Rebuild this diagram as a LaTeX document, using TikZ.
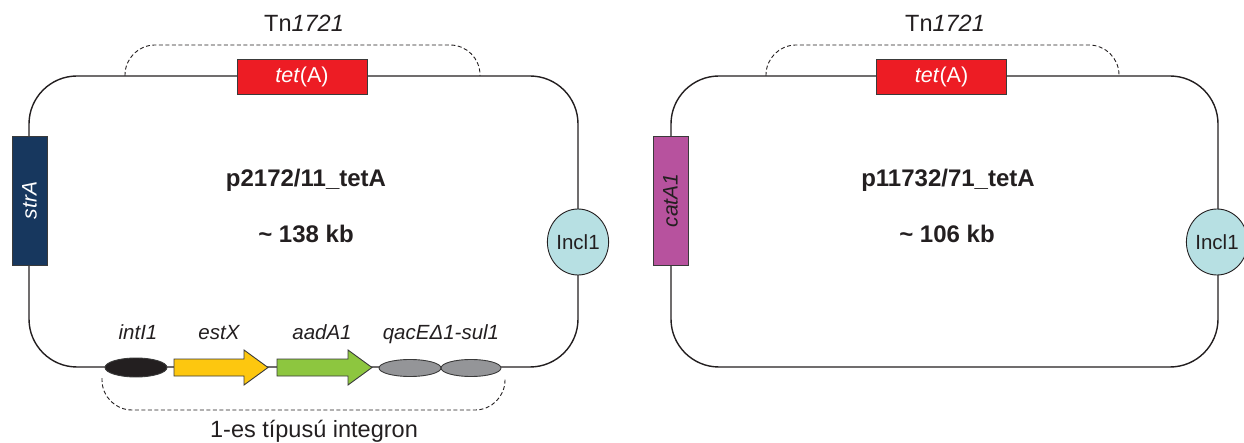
\documentclass[tikz,border=0pt]{standalone}
\usepackage{fontspec}
\setmainfont{Liberation Sans}
\usetikzlibrary{shapes.geometric}
\definecolor{ink}{HTML}{231F20}
\definecolor{tetred}{HTML}{ED1C24}
\definecolor{strnavy}{HTML}{17375E}
\definecolor{catmag}{HTML}{B7529E}
\definecolor{inclcyan}{HTML}{B7E0E3}
\definecolor{estyel}{HTML}{FDC70F}
\definecolor{aadgrn}{HTML}{8DC63F}
\definecolor{qacgrey}{HTML}{949598}
\definecolor{boxline}{HTML}{3A3A3A}
\tikzset{
  plasmid/.style={draw=ink, line width=1.4pt, rounded corners=48pt},
  genebox/.style={draw=boxline, line width=0.9pt, inner sep=0pt},
  incl/.style={ellipse, draw=ink, line width=0.9pt, fill=inclcyan, inner sep=0pt,
    minimum width=54pt, minimum height=66pt, text=ink, font=\fontsize{20.5}{24}\selectfont},
  oval/.style={ellipse, draw=boxline, line width=0.9pt, inner sep=0pt},
  arrowgene/.style={draw=boxline, line width=0.9pt},
  tnspan/.style={draw=ink, line width=0.9pt, dash pattern=on 4pt off 2.5pt, rounded corners=30pt},
  genelabel/.style={anchor=base, text=ink, font=\itshape\fontsize{20.5}{24}\selectfont},
  tnlabel/.style={anchor=base, text=ink, font=\fontsize{23.5}{28}\selectfont},
  title/.style={anchor=base, text=ink, font=\bfseries\fontsize{24}{28}\selectfont},
  tetlabel/.style={text=white, font=\fontsize{21.5}{26}\selectfont}
}
\begin{document}
\begin{tikzpicture}[x=1pt,y=-1pt]
\useasboundingbox (0,0) rectangle (1244,443);

% ---------------- left plasmid ----------------
\draw[plasmid] (29,76) rectangle (578,367);
\coordinate (tnLa) at (125,76);
\coordinate (tnLb) at (480,76);
\draw[tnspan] (tnLa) -- (125,45) -- (480,45) -- (tnLb);
\node[tnlabel] (tnL) at (304,32) {Tn\textit{1721}};
\node[genebox, fill=tetred, minimum width=130pt, minimum height=35pt, tetlabel] (tetL) at (302,76.5) {\textit{tet}(A)};
\node[genebox, fill=strnavy, rotate=90, minimum width=129pt, minimum height=35pt, text=white,
  font=\itshape\fontsize{21}{25}\selectfont] (strA) at (29.5,200.5) {strA};
\node[incl] (inclL) at (578,242) {Incl1};
\node[title] (nameL) at (306,187) {p2172/11\_tetA};
\node[title] (sizeL) at (306,243) {\textasciitilde{} 138 kb};

% bottom integron
\node[oval, fill=ink, minimum width=62pt, minimum height=19pt] (intI) at (136,367.5) {};
\draw[arrowgene, fill=estyel] (174,359) -- (244,359) -- (244,350) -- (268,367.5) -- (244,385) -- (244,376) -- (174,376) -- cycle;
\coordinate (estX) at (221,367.5);
\draw[arrowgene, fill=aadgrn] (277,359) -- (348,359) -- (348,350) -- (372,367.5) -- (348,385) -- (348,376) -- (277,376) -- cycle;
\coordinate (aadA) at (324,367.5);
\node[oval, fill=qacgrey, minimum width=62pt, minimum height=17pt] (qac) at (410,368) {};
\node[oval, fill=qacgrey, minimum width=60pt, minimum height=17pt] (sul) at (471,368) {};
\node[genelabel] (lintI) at (138,339) {intI1};
\node[genelabel] (lestX) at (219,339) {estX};
\node[genelabel] (laadA) at (322,339) {aadA1};
\node[genelabel] (lqac) at (441,339) {qacEΔ1-sul1};
\coordinate (inta) at (102,378);
\coordinate (intb) at (505,378);
\draw[tnspan] (inta) -- (102,410) -- (505,410) -- (intb);
\node[tnlabel] (intlab) at (314,437) {1-es típusú integron};

% ---------------- right plasmid ----------------
\draw[plasmid] (671,76) rectangle (1218,367);
\coordinate (tnRa) at (766,76);
\coordinate (tnRb) at (1119,76);
\draw[tnspan] (tnRa) -- (766,45) -- (1119,45) -- (tnRb);
\node[tnlabel] (tnR) at (945,32) {Tn\textit{1721}};
\node[genebox, fill=tetred, minimum width=130pt, minimum height=35pt, tetlabel] (tetR) at (941.5,76.5) {\textit{tet}(A)};
\node[genebox, fill=catmag, rotate=90, minimum width=129pt, minimum height=35pt, text=ink,
  font=\itshape\fontsize{21}{25}\selectfont] (catA) at (670.5,200.5) {catA1};
\node[incl] (inclR) at (1217,242) {Incl1};
\node[title] (nameR) at (948,187) {p11732/71\_tetA};
\node[title] (sizeR) at (947,243) {\textasciitilde{} 106 kb};
\end{tikzpicture}
\end{document}
